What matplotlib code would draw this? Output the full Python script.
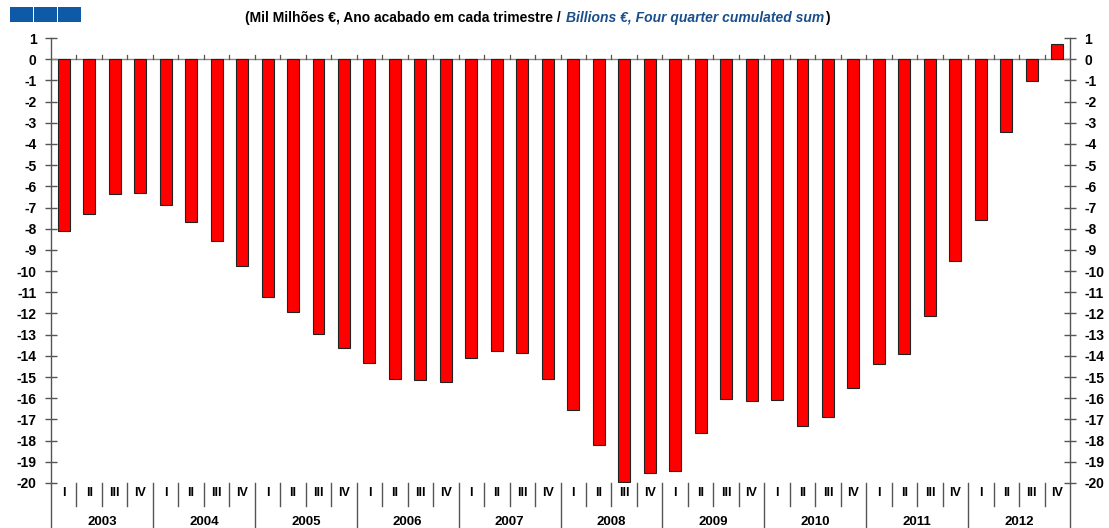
import matplotlib
matplotlib.use("Agg")
import matplotlib.pyplot as plt
from matplotlib.patches import Rectangle

years = ["2003", "2004", "2005", "2006", "2007", "2008", "2009", "2010", "2011", "2012"]
quarters = ["I", "II", "III", "IV"]
values = [
    -8.1, -7.3, -6.35, -6.3,
    -6.9, -7.7, -8.6, -9.75,
    -11.2, -11.95, -12.95, -13.65,
    -14.35, -15.1, -15.15, -15.25,
    -14.1, -13.75, -13.85, -15.1,
    -16.55, -18.2, -19.95, -19.55,
    -19.45, -17.65, -16.05, -16.15,
    -16.1, -17.3, -16.9, -15.5,
    -14.4, -13.9, -12.1, -9.5,
    -7.6, -3.45, -1.05, 0.7,
]
yticks = list(range(-20, 2))

plt.rcParams['font.family'] = ['Liberation Sans', 'DejaVu Sans']

W, H = 1109, 528
fig = plt.figure(figsize=(W / 100, H / 100), dpi=100)
fig.patch.set_facecolor("white")

left, right = 51 / W, 1070 / W
bottom, top = 1 - 483 / H, 1 - 38 / H
ax = fig.add_axes([left, bottom, right - left, top - bottom])

n = len(values)
xs = [i + 0.5 for i in range(n)]
ax.bar(xs, values, width=0.47, color="#FF0000", edgecolor="#222222", linewidth=0.8, zorder=3)

ax.set_xlim(0, n)
ax.set_ylim(-20, 1)
ax.set_xticks([])

for s in ["top", "bottom"]:
    ax.spines[s].set_visible(False)
for s in ["left", "right"]:
    ax.spines[s].set_color("#555555")
    ax.spines[s].set_linewidth(1.0)

ax.set_yticks(yticks)
ax.set_yticklabels([str(t) for t in yticks])
ax.tick_params(axis="y", which="both", direction="inout", length=9, width=1.0,
               color="#555555", labelsize=10, left=True, right=True,
               labelleft=True, labelright=True, pad=6)
for lab in ax.get_yticklabels():
    lab.set_fontweight("bold")

# zero line with small upward ticks between bars
ax.axhline(0, color="#888888", linewidth=1.0, zorder=2)
for i in range(1, n):
    ax.plot([i, i], [0, 0.18], color="#555555", linewidth=0.9, zorder=2)

# category area below the axes
trans = ax.get_xaxis_transform()
y_q = -(493 - 483) / (483 - 38)
y_y = -(522 - 483) / (483 - 38)
y_qsep = -(506 - 483) / (483 - 38)
y_ysep = -(528 - 483) / (483 - 38)
for i in range(n):
    ax.text(i + 0.5, y_q, quarters[i % 4], transform=trans, ha="center", va="center",
            fontsize=9, fontweight="bold", clip_on=False)
for i in range(n + 1):
    if i % 4 == 0:
        ax.plot([i, i], [0, y_ysep], transform=trans, color="#555555", lw=1.0, clip_on=False)
    else:
        ax.plot([i, i], [0, y_qsep], transform=trans, color="#555555", lw=1.0, clip_on=False)
for k, yr in enumerate(years):
    ax.text(4 * k + 2, y_y, yr, transform=trans, ha="center", va="center",
            fontsize=9.5, fontweight="bold", clip_on=False)

# blue squares top-left
for k in range(3):
    fig.patches.append(Rectangle(((10 + k * 24) / W, 1 - 22 / H), 23 / W, 15 / H,
                                 transform=fig.transFigure, facecolor="#0E5AA7",
                                 edgecolor="none"))

# title in pieces
fig.canvas.draw()
renderer = fig.canvas.get_renderer()
parts = [
    ("(Mil Milhões €, Ano acabado em cada trimestre / ", "black", "normal"),
    ("Billions €, Four quarter cumulated sum", "#1A4F8B", "italic"),
    (")", "black", "normal"),
]
texts = []
x0 = 240
for txt, col, sty in parts:
    t = fig.text(x0 / W, 1 - 18 / H, txt, color=col, fontsize=10, fontweight="bold",
                 style=sty, ha="left", va="center")
    bb = t.get_window_extent(renderer=renderer)
    x0 += bb.width + 1
    texts.append(t)
total = x0 - 240
shift = (538 - (240 + total / 2))
for t in texts:
    px, py = t.get_position()
    t.set_position((px + shift / W, py))

fig.savefig("out.png", dpi=100, facecolor="white")
